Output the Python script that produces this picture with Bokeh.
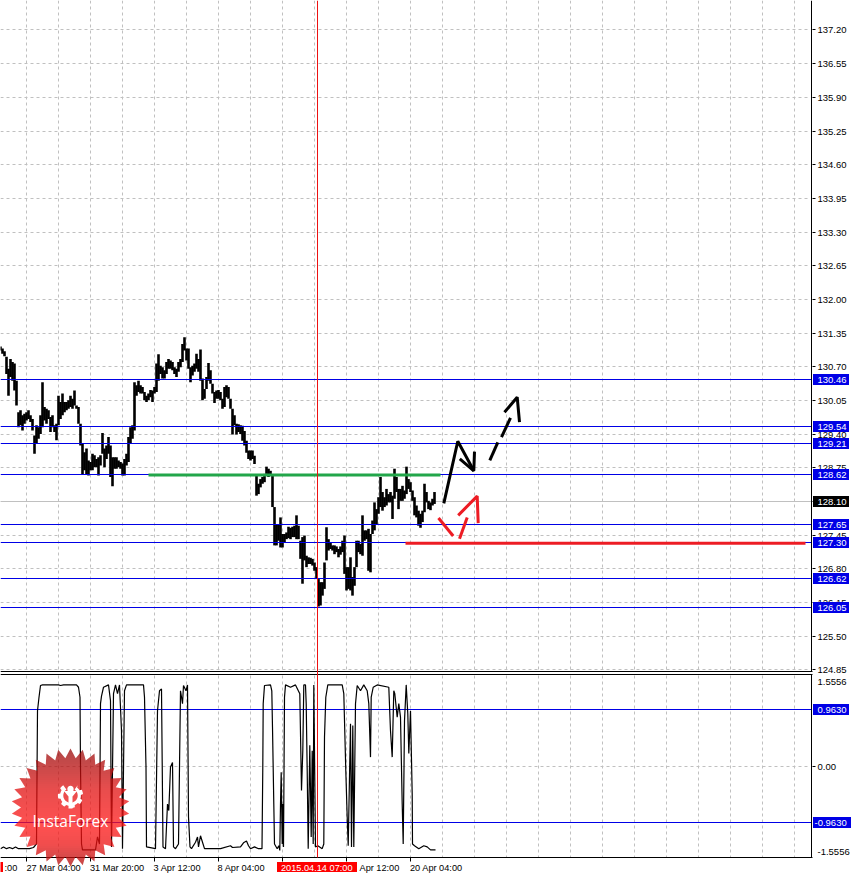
import math
from bokeh.plotting import figure
from bokeh.models import Range1d
from bokeh.core.properties import value
from bokeh.embed import file_html
from bokeh.resources import INLINE

# ---- price data: one sample every 2 time units ----
bar_high = [131.10,131.06,131.01,130.90,130.67,130.86,130.80,130.77,130.44,129.83,129.87,129.77,129.80,129.83,129.87,129.77,129.70,129.38,129.58,129.54,
129.77,130.41,129.93,129.90,129.87,129.74,129.77,129.58,129.61,130.15,130.03,130.19,130.03,130.03,130.06,130.15,130.09,130.25,129.96,129.93,
129.61,129.22,129.06,129.13,128.90,128.87,129.03,129.00,128.93,128.96,129.00,129.43,129.13,129.19,129.35,129.19,128.96,128.96,128.96,128.90,
128.87,128.84,128.93,129.03,129.35,129.54,129.58,130.41,130.35,130.44,130.35,130.32,130.22,130.15,130.19,130.26,130.25,130.32,130.77,130.95,
130.73,130.70,130.64,130.80,130.86,130.83,130.80,130.70,130.67,130.80,130.86,131.15,131.28,131.06,131.06,130.70,130.73,130.77,130.96,130.86,
131.04,130.48,130.28,130.51,130.78,130.64,130.38,130.22,130.25,130.26,130.22,130.09,130.32,130.35,130.32,130.09,129.90,129.77,129.61,129.60,
129.58,129.57,129.47,129.28,129.09,129.09,129.09,128.99,128.61,128.45,128.54,128.58,128.64,128.78,128.74,128.70,128.61,128.00,127.67,127.67,
127.80,127.48,127.48,127.51,127.62,127.60,127.62,127.64,127.84,127.64,127.35,127.42,127.45,127.06,127.03,127.02,127.00,126.93,126.84,126.61,
126.55,126.55,126.93,127.61,127.38,127.32,127.26,127.26,127.24,127.19,127.24,127.35,127.45,126.84,126.84,127.03,126.65,126.84,127.35,127.35,
127.29,127.84,127.55,127.55,127.58,127.48,127.74,128.09,127.96,128.19,128.58,128.29,128.19,128.35,128.25,128.29,128.22,128.74,128.58,128.35,
128.35,128.41,128.32,128.78,128.54,128.48,128.32,128.19,128.03,127.93,127.87,127.93,128.45,128.29,128.12,128.09,128.16,128.29]
bar_low = [131.02,130.96,130.91,130.57,130.15,130.51,130.44,130.25,129.96,129.54,129.58,129.48,129.61,129.67,129.70,129.64,129.48,129.03,129.22,129.32,
129.41,129.54,129.67,129.61,129.70,129.45,129.54,129.45,129.29,129.58,129.70,129.77,129.83,129.87,129.90,129.93,129.90,129.96,129.90,129.61,
129.19,128.64,128.71,128.64,128.61,128.71,128.71,128.77,128.77,128.61,128.80,129.03,128.77,128.93,129.03,128.58,128.40,128.74,128.74,128.77,
128.74,128.61,128.61,128.80,128.87,129.22,129.32,129.48,130.15,130.22,130.19,130.19,130.06,130.03,130.06,130.12,130.03,130.19,130.22,130.44,
130.57,130.48,130.48,130.57,130.67,130.67,130.64,130.57,130.51,130.61,130.70,130.80,131.02,130.83,130.67,130.41,130.54,130.61,130.67,130.61,
130.44,130.06,130.09,130.28,130.44,130.38,130.19,130.01,130.09,130.09,130.06,129.90,129.93,130.12,130.09,129.90,129.40,129.58,129.40,129.45,
129.41,129.28,129.19,129.05,128.93,128.90,128.93,128.83,128.22,128.25,128.38,128.45,128.48,128.64,128.58,128.61,128.00,127.26,127.26,127.35,
127.22,127.22,127.32,127.38,127.40,127.38,127.42,127.42,127.38,127.38,127.00,126.52,126.97,126.84,126.90,126.90,126.87,126.77,126.61,126.08,
126.10,126.29,126.42,126.97,127.16,127.19,127.16,127.09,127.13,127.03,127.08,127.13,126.71,126.39,126.42,126.39,126.29,126.48,126.84,127.13,
127.09,127.06,127.35,127.38,126.77,126.74,127.48,127.55,127.67,127.87,128.00,127.93,128.00,128.03,128.09,128.09,127.77,128.16,128.29,127.96,
128.12,128.12,128.16,128.25,128.35,128.29,128.12,127.84,127.80,127.64,127.60,127.71,127.90,128.09,127.96,127.94,128.03,128.06]
bar_hours = [2 * i for i in range(len(bar_high))]

# ---- oscillator ----
osc_hours = [0,3,6,9,12,15,18,24,29,33,36,37,38.5,40,42,58,60,63,76,78,79.5,80,81,82,95,97,99,100,101,103,108,110,111,113,115,117,119,121,122,124,126,143,144,145.5,146,155,157,159,161,162.5,165,167,168.3,170,172,173,175,178,180,182,183,185.5,187,188,189.5,191,195,197,198,200,202,204,217,220,230,232,
240,243,246,248,250,254,258,261.5,262.3,262.7,264,270,271.3,272,273.3,274,276.7,278.3,279.3,280,280.7,281.7,282.3,283,284,285,290,295,299.3,301,302.3,303.3,305,305.7,306.7,307.7,309.3,310.7,311.7,312.7,313.3,315,317.3,321.7,323.3,324,325.3,327.3,341.7,343.3,345.3,346.7,347.7,350,351,352.3,353.3,355,356.7,360,363.3,366.7,368.3,370,370.7,372.7,376.7,388.3,390,391.7,393.3,394.3,396.7,398.3,400,401.7,402.7,404,405.7,407.3,408.3,410,411.7,412,414,418.3,423.3,426.7,430,435]
osc_value = [-1.40,-1.37,-1.40,-1.38,-1.40,-1.37,-1.40,-1.40,-1.40,-1.38,-1.32,0.95,1.18,1.38,1.39,1.39,1.38,1.39,1.39,1.35,1.18,-0.01,-1.32,-1.42,-1.42,-1.20,-1.32,1.07,1.20,1.35,1.39,1.12,-1.37,1.24,1.39,1.24,1.39,0.61,-1.40,1.29,1.39,1.39,1.18,-0.01,-1.37,-1.40,0.95,1.29,1.32,-1.37,-1.40,-0.64,-0.75,-0.01,0.07,-1.37,-1.40,-1.32,1.29,1.07,1.38,1.29,1.39,-0.86,-1.37,-1.40,-1.29,-1.20,-1.37,-1.18,-1.29,-1.40,-1.40,-1.40,-1.35,-1.38,
-1.37,-1.30,-1.27,-1.35,-1.40,-1.37,-1.40,-1.40,0.0,1.07,1.38,1.39,1.29,0.67,-0.64,-1.32,-1.40,-1.35,-1.43,-0.64,-0.10,-1.32,-0.64,-1.37,1.18,1.39,1.35,1.39,1.24,-0.41,0.27,1.39,1.39,1.07,-0.07,-1.40,0.36,-1.20,0.27,-1.32,1.39,-1.37,-1.35,-1.40,-1.32,0.50,1.18,1.39,1.39,1.24,-0.07,-0.86,-1.35,0.73,-1.37,0.70,-1.37,1.07,1.38,1.29,1.39,1.29,1.07,0.16,1.18,1.35,1.39,1.35,0.61,0.16,1.29,1.24,0.84,1.07,0.84,-0.64,-1.32,0.78,1.39,0.90,0.22,0.95,-0.47,-1.32,-1.35,-1.40,-1.35,-1.37,-1.42,-1.42]

# ---- levels, ticks and drawn trend lines ----
level_prices = [130.46, 129.54, 129.21, 128.62, 127.65, 127.30, 126.62, 126.05]
level_labels = ["130.46", "129.54", "129.21", "128.62", "127.65", "127.30", "126.62", "126.05"]
last_price = 128.10
last_label = "128.10"
osc_levels = [0.963, -0.963]
osc_level_labels = ["0.9630", "-0.9630"]

price_ticks = [137.20,136.55,135.90,135.25,134.60,133.95,133.30,132.65,132.00,131.35,130.70,130.05,129.40,128.75,128.10,127.45,126.80,126.15,125.50,124.85]
price_tick_labels = ["137.20","136.55","135.90","135.25","134.60","133.95","133.30","132.65","132.00","131.35","130.70","130.05","129.40","128.75","128.10","127.45","126.80","126.15","125.50","124.85"]
osc_label_pos = [1.436, 0.0, -1.46]
osc_tick_labels = ["1.5556", "0.00", "-1.5556"]

time_tick_hours = [26, 90, 154, 218, 282, 346, 410]
time_labels = [":00", "27 Mar 04:00", "31 Mar 20:00", "3 Apr 12:00", "8 Apr 04:00", "Apr 12:00", "20 Apr 04:00"]
time_label_hours = [4, 26, 89.5, 153, 217, 359, 409.5]
cursor_label = "2015.04.14 07:00"
cursor_hour = 317
grid_hours = [26 + 32 * k for k in range(25)]

green_hours, green_prices = [148, 440], [128.62, 128.62]
red_hours, red_prices = [405, 805], [127.30, 127.30]
black_paths_h = [[443.3, 457.3, 473.3], [459.3, 473.3, 474], [489.3, 497.3], [501, 510], [504, 516.7, 519]]
black_paths_p = [[128.07, 129.27, 128.70], [128.93, 128.70, 129.07], [128.90, 129.25], [129.35, 129.72], [129.83, 130.12, 129.64]]
red_paths_h = [[438, 452.7], [459, 466.7], [457.7, 476.7, 477.7]]
red_paths_p = [[127.79, 127.44], [127.39, 127.80], [127.84, 128.21, 127.69]]

FONT = value("Liberation Sans")
FS = value("9.5px")
FS_TIME = value("9.2px")
BLUE = "#0000e6"
GRID = "#c0c0c0"
W, H = 853, 877

price_of = lambda y: 137.779 - 0.019305 * y
y_of_price = lambda pr: (137.779 - pr) / 0.019305
osc_of = lambda y: (766 - y) / 58.7
y_of_osc = lambda v: 766 - v * 58.7
snap_price = lambda pr: price_of(math.floor(y_of_price(pr)))
snap_osc = lambda v: osc_of(math.floor(y_of_osc(v)))

p = figure(width=W, height=H, frame_width=W, frame_height=H, output_backend="svg", toolbar_location=None,
           x_range=Range1d(0, W), y_range=Range1d(price_of(H), price_of(0)),
           x_axis_location=None, y_axis_location=None,
           min_border_left=0, min_border_top=0, min_border_bottom=0, min_border_right=0, outline_line_color=None)
p.extra_y_ranges["osc"] = Range1d(osc_of(H), osc_of(0))
p.grid.visible = False
OSC = {"y_range_name": "osc"}


def hseg(x0, x1, ys, rng=None, **kw):
    kwargs = {"y_range_name": rng} if rng else {}
    p.segment([x0] * len(ys), ys, [x1] * len(ys), ys, **kwargs, **kw)


def vseg(xs, y0, y1, rng=None, **kw):
    kwargs = {"y_range_name": rng} if rng else {}
    p.segment(xs, [y0] * len(xs), xs, [y1] * len(xs), **kwargs, **kw)


# grid
vseg(grid_hours, price_of(0), price_of(671), line_color=GRID, line_dash="3 3", line_width=1)
vseg(grid_hours, osc_of(675), osc_of(857), rng="osc", line_color=GRID, line_dash="3 3", line_width=1)
hseg(0, 809, [snap_price(v) for v in price_ticks], line_color=GRID, line_dash="3 3", line_width=1)
hseg(0, 809, [snap_osc(0.0)], rng="osc", line_color=GRID, line_dash="3 3", line_width=1)
hseg(0, 811, [snap_price(last_price)], line_color=GRID, line_width=1)

# price bars
p.segment(bar_hours, bar_low, bar_hours, bar_high, line_color="black", line_width=2.6)

# levels
hseg(0, 811, [snap_price(v) for v in level_prices], line_color=BLUE, line_width=1)
hseg(0, 811, [snap_osc(v) for v in osc_levels], rng="osc", line_color=BLUE, line_width=1)

# trend lines
p.line(green_hours, green_prices, line_color="#22a64a", line_width=3)
p.line(red_hours, red_prices, line_color="#ed1c24", line_width=3)
p.multi_line(black_paths_h, black_paths_p, line_color="black", line_width=3)
p.multi_line(red_paths_h, red_paths_p, line_color="#ed1c24", line_width=3)

# oscillator
p.line(osc_hours, osc_value, line_color="black", line_width=1.2, **OSC)

# panel borders, right-hand scale and ticks
hseg(0, 812, [price_of(671), price_of(674), price_of(857)], line_color="black", line_width=1)
vseg([811], price_of(0), price_of(671), line_color="black", line_width=1)
vseg([811], price_of(674), price_of(857), line_color="black", line_width=1)
hseg(812, 815, [snap_price(v) for v in price_ticks], line_color="black", line_width=1)
hseg(812, 815, [snap_osc(0.0)], rng="osc", line_color="black", line_width=1)
vseg(time_tick_hours, price_of(857), price_of(861), line_color="black", line_width=1)

# cursor
vseg([cursor_hour], price_of(0), price_of(857), line_color="#ee1111", line_width=1)

# right-hand labels
p.text([817] * len(price_ticks), price_ticks, text=price_tick_labels, text_font=FONT, text_font_size=FS,
       text_color="black", text_align="left", text_baseline="middle")
p.text([817] * len(osc_label_pos), osc_label_pos, text=osc_tick_labels, text_font=FONT, text_font_size=FS,
       text_color="black", text_align="left", text_baseline="middle", **OSC)

# value boxes (edges sit half a pixel back so they land on pixel borders)
for prices, labels, col in [(level_prices, level_labels, BLUE), ([last_price], [last_label], "black")]:
    ys = [math.floor(y_of_price(v)) for v in prices]
    p.quad(left=[812.5] * len(ys), right=[848.5] * len(ys), top=[price_of(y - 5.5) for y in ys], bottom=[price_of(y + 5.5) for y in ys],
           fill_color=col, line_color=None)
    p.text([817] * len(ys), prices, text=labels, text_font=FONT, text_font_size=FS, text_color="white",
           text_align="left", text_baseline="middle")
ys = [math.floor(y_of_osc(v)) for v in osc_levels]
p.quad(left=[812.5, 812.5], right=[848.5, 850.5], top=[price_of(y - 5.5) for y in ys], bottom=[price_of(y + 5.5) for y in ys],
       fill_color=BLUE, line_color=None)
p.text([817, 814], osc_levels, text=osc_level_labels, text_font=FONT, text_font_size=FS, text_color="white",
       text_align="left", text_baseline="middle", **OSC)

# bottom labels
row_y = price_of(867.3)
p.quad(left=[276.5, -1], right=[356.5, 2.5], top=[price_of(861.5)] * 2, bottom=[price_of(871.5)] * 2, fill_color="#ff0000", line_color=None)
p.text(time_label_hours, [row_y] * len(time_labels), text=time_labels, text_font=FONT, text_font_size=FS_TIME,
       text_color="black", text_align="left", text_baseline="middle")
p.text([280.5], [row_y], text=[cursor_label], text_font=FONT, text_font_size=FS_TIME, text_color="white",
       text_align="left", text_baseline="middle")

# ---- InstaForex badge ----
CX, CY, RO, RI, N = 70.0, 807.5, 59.0, 49.5, 30
star = []
for i in range(2 * N):
    r = RO if i % 2 == 0 else RI
    a = math.pi * i / N - math.pi / 2
    star.append((CX + r * math.cos(a), CY + r * math.sin(a)))


def clip(poly, y0, y1):
    def half(pts, keep, cross):
        out = []
        for i, a in enumerate(pts):
            b = pts[(i + 1) % len(pts)]
            if keep(a):
                out.append(a)
            if keep(a) != keep(b):
                t = (cross - a[1]) / (b[1] - a[1])
                out.append((a[0] + t * (b[0] - a[0]), cross))
        return out
    r = half(poly, lambda c: c[1] >= y0, y0)
    return half(r, lambda c: c[1] <= y1, y1) if r else r


def shade(y):
    stops = [(748, (150, 10, 10)), (790, (225, 18, 18)), (825, (255, 22, 22)), (845, (235, 18, 18)), (867, (170, 10, 10))]
    for (a, ca), (b, cb) in zip(stops, stops[1:]):
        if y <= b:
            t = (y - a) / (b - a)
            return tuple(int(ca[i] + t * (cb[i] - ca[i])) for i in range(3))
    return stops[-1][1]


sx, sy, sc = [], [], []
for y in range(748, 868, 2):
    strip = clip(star, y, y + 2)
    if strip:
        sx.append([c[0] for c in strip])
        sy.append([price_of(c[1] - 0.5) for c in strip])
        sc.append("#%02x%02x%02x" % shade(y + 1))
p.patches(sx, sy, fill_color=sc, fill_alpha=0.75, line_color=None, level="overlay")

# gear mark
GX, GY = 70.0, 795.0
ring_out, ring_in = [], []
steps = 72
for i in range(steps + 1):
    a = math.radians(-90 + 145 - (290 * i / steps) + 180)
    tooth = 12.6 if (i // 6) % 2 == 0 else 10.4
    ring_out.append((GX + tooth * math.cos(a), GY + tooth * math.sin(a)))
    ring_in.append((GX + 7.2 * math.cos(a), GY + 7.2 * math.sin(a)))
mark = [ring_out + ring_in[::-1],
        [(70 + 3.2 * math.cos(t / 8 * math.pi), 788.5 + 3.2 * math.sin(t / 8 * math.pi)) for t in range(16)],
        [(63.5, 790.5), (76.5, 790.5), (72, 796), (72, 808), (68, 808), (68, 796)]]
p.patches([[c[0] for c in m] for m in mark], [[price_of(c[1]) for c in m] for m in mark],
          fill_color="white", line_color=None, level="overlay")
p.text([CX], [price_of(820)], text=["InstaForex"], text_font=value("Open Sans"), text_font_size=value("15.5px"),
       text_color="white", text_align="center", text_baseline="middle", level="overlay")

open("out.html", "w").write(file_html(p, INLINE))
